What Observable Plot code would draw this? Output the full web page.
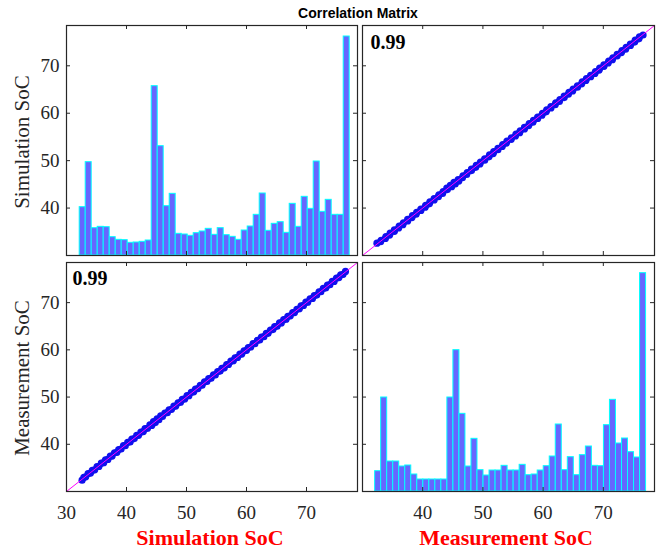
<!DOCTYPE html>
<html><head><meta charset="utf-8">
<script src="https://cdn.jsdelivr.net/npm/d3@7"></script>
<script src="https://cdn.jsdelivr.net/npm/@observablehq/plot@0.6"></script>
<style>
body{margin:0;background:#fff;}
#wrap{position:relative;width:659px;height:550px;background:#fff;overflow:hidden;}
#wrap svg{position:absolute;left:0;top:0;}
.title{position:absolute;left:0;width:716px;top:5px;line-height:15px;text-align:center;font:bold 14px "Liberation Sans",Arial,sans-serif;color:#000;}
.ylab{position:absolute;font:21px "Liberation Serif",serif;line-height:21px;color:#262626;white-space:nowrap;transform:translate(-50%,-50%) rotate(-90deg);}
.xlab{position:absolute;font:bold 22px "Liberation Serif",serif;line-height:22px;color:#ff0000;white-space:nowrap;transform:translateX(-50%);}
</style></head>
<body>
<div id="wrap"></div>
<script>
// ---- data ----
const titleText = "Correlation Matrix";
const varNames = ["Simulation SoC", "Measurement SoC"];
const corrText = ["0.99"];
const axisLimits = [30, 78.5];
const xTicksLeft = [30, 40, 50, 60, 70];
const xTicksRight = [40, 50, 60, 70];
const yTicks = [40, 50, 60, 70];
const binWidth = 1;
const simBinStart = 32.2;
const measBinStart = 32.1;
const simCounts = [145, 280, 82, 86, 85, 55, 47, 46, 38, 39, 41, 45, 508, 328, 148, 185, 65, 63, 59, 67, 72, 80, 62, 82, 61, 56, 47, 75, 87, 122, 186, 74, 95, 100, 68, 155, 86, 176, 140, 282, 131, 167, 122, 122, 657];
const measCounts = [61, 282, 90, 90, 75, 78, 51, 36, 36, 36, 36, 36, 282, 424, 233, 75, 158, 64, 48, 63, 63, 77, 63, 63, 80, 49, 51, 63, 76, 105, 201, 64, 103, 49, 109, 135, 77, 76, 199, 275, 144, 159, 118, 102, 655];
const simSoC = [
  32.6, 32.9, 33.2, 33.6, 34.0, 34.3, 34.7, 35.1, 35.4, 35.8,
  36.2, 36.5, 36.9, 37.3, 37.6, 38.0, 38.4, 38.7, 39.1, 39.5,
  39.8, 40.2, 40.6, 40.9, 41.3, 41.7, 42.0, 42.4, 42.8, 43.1,
  43.5, 43.9, 44.2, 44.5, 44.8, 45.1, 45.4, 45.7, 46.0, 46.4,
  46.8, 47.1, 47.5, 47.9, 48.2, 48.6, 49.0, 49.3, 49.7, 50.1,
  50.4, 50.8, 51.2, 51.5, 51.9, 52.3, 52.6, 53.0, 53.4, 53.7,
  54.1, 54.5, 54.8, 55.2, 55.6, 55.9, 56.3, 56.7, 57.0, 57.4,
  57.8, 58.1, 58.5, 58.9, 59.2, 59.6, 60.0, 60.3, 60.7, 61.1,
  61.4, 61.8, 62.2, 62.5, 62.9, 63.3, 63.6, 64.0, 64.4, 64.7,
  65.1, 65.5, 65.8, 66.2, 66.6, 66.9, 67.3, 67.7, 68.0, 68.4,
  68.8, 69.1, 69.5, 69.9, 70.2, 70.6, 71.0, 71.3, 71.7, 72.1,
  72.4, 72.8, 73.2, 73.5, 73.9, 74.3, 74.6, 75.0, 75.4, 75.7,
  76.1, 76.5];
const measSoC = [
  32.4, 33.0, 33.1, 33.8, 33.9, 34.5, 34.6, 35.3, 35.3, 36.0,
  36.1, 36.7, 36.8, 37.5, 37.5, 38.2, 38.3, 38.9, 39.0, 39.7,
  39.7, 40.4, 40.5, 41.1, 41.2, 41.9, 41.9, 42.6, 42.7, 43.3,
  43.4, 44.1, 44.0, 44.8, 44.6, 45.4, 45.2, 46.0, 45.9, 46.6,
  46.7, 47.3, 47.4, 48.1, 48.1, 48.8, 48.9, 49.5, 49.6, 50.3,
  50.3, 51.0, 51.1, 51.7, 51.8, 52.5, 52.5, 53.2, 53.3, 53.9,
  54.0, 54.7, 54.7, 55.4, 55.5, 56.1, 56.2, 56.9, 56.9, 57.6,
  57.7, 58.3, 58.4, 59.1, 59.1, 59.8, 59.9, 60.5, 60.6, 61.3,
  61.3, 62.0, 62.1, 62.7, 62.8, 63.5, 63.5, 64.2, 64.3, 64.9,
  65.0, 65.7, 65.7, 66.4, 66.5, 67.1, 67.2, 67.9, 67.9, 68.6,
  68.7, 69.3, 69.4, 70.1, 70.1, 70.8, 70.9, 71.5, 71.6, 72.3,
  72.3, 73.0, 73.1, 73.7, 73.8, 74.5, 74.5, 75.2, 75.3, 75.9,
  76.0, 76.6];

// ---- derived tables ----
const pairs = simSoC.map((s, i) => ({sim: s, meas: measSoC[i]}));
const toBins = (counts, start) => counts.map((c, i) => ({x1: start + i * binWidth, x2: start + (i + 1) * binWidth, count: c}));
const simBins = toBins(simCounts, simBinStart);
const measBins = toBins(measCounts, measBinStart);

// ---- layout ----
const W = 659, H = 550;
const frames = {
  tl: {left: 66, right: 357, top: 25, bottom: 255},
  tr: {left: 362, right: 654, top: 25, bottom: 255},
  bl: {left: 66, right: 357, top: 262, bottom: 491},
  br: {left: 362, right: 654, top: 262, bottom: 491}
};
const ink = "#262626";
const wrap = document.getElementById("wrap");

function base(f, extra) {
  return Object.assign({
    width: W, height: H,
    marginLeft: f.left, marginRight: W - f.right, marginTop: f.top, marginBottom: H - f.bottom,
    style: {background: "transparent", fontFamily: "'Liberation Serif', serif", fontSize: "19px", color: ink, overflow: "visible"}
  }, extra);
}

function content(f, yDomain, marks) {
  wrap.appendChild(Plot.plot(base(f, {
    x: {domain: axisLimits, axis: null},
    y: {domain: yDomain, axis: null},
    marks
  })));
}

function frameLayer(f, xTicks, showX, showY) {
  const fw = f.right - f.left, fh = f.bottom - f.top, tl = 4;
  const marks = [
    Plot.tickX(xTicks, {x: d => d, stroke: ink, insetTop: fh - tl}),
    Plot.tickX(xTicks, {x: d => d, stroke: ink, insetBottom: fh - tl}),
    Plot.tickY(yTicks, {y: d => d, stroke: ink, insetRight: fw - tl}),
    Plot.tickY(yTicks, {y: d => d, stroke: ink, insetLeft: fw - tl}),
    Plot.frame({stroke: ink, strokeWidth: 1.2})
  ];
  if (showX) marks.push(Plot.axisX({ticks: xTicks, anchor: "bottom", tickSize: 0, tickPadding: 14, fontSize: 19, label: null}));
  if (showY) marks.push(Plot.axisY({ticks: yTicks, anchor: "left", tickSize: 0, tickPadding: 7, fontSize: 19, label: null}));
  wrap.appendChild(Plot.plot(base(f, {
    x: {domain: axisLimits, axis: showX ? undefined : null},
    y: {domain: axisLimits, axis: showY ? undefined : null},
    marks
  })));
}

const barStyle = {fill: "#6666ff", stroke: "#00ffff", strokeWidth: 1};
const scatterMarks = (xk, yk, dx, dy) => [
  Plot.dot(pairs, {x: xk, y: yk, r: 3.6, fill: "#1010ee", stroke: null}),
  Plot.line(axisLimits, {x: d => d, y: d => d, stroke: "#ff00ff", strokeWidth: 1}),
  Plot.text(corrText, {frameAnchor: "top-left", text: d => d, dx, dy, textAnchor: "start", lineAnchor: "top", fontSize: 20, fontWeight: "bold", fill: "#000"})
];

// top-left: histogram of simulation
content(frames.tl, [0, 690], [Plot.rectY(simBins, {x1: "x1", x2: "x2", y: "count", ...barStyle})]);
frameLayer(frames.tl, xTicksLeft, false, true);
// top-right: simulation vs measurement
content(frames.tr, axisLimits, scatterMarks("meas", "sim", 8, 9));
frameLayer(frames.tr, xTicksRight, false, false);
// bottom-left: measurement vs simulation
content(frames.bl, axisLimits, scatterMarks("sim", "meas", 6, 8));
frameLayer(frames.bl, xTicksLeft, true, true);
// bottom-right: histogram of measurement
content(frames.br, [0, 687], [Plot.rectY(measBins, {x1: "x1", x2: "x2", y: "count", ...barStyle})]);
frameLayer(frames.br, xTicksRight, true, false);

// ---- text ----
function addDiv(cls, text, css) {
  const d = document.createElement("div");
  d.className = cls; d.textContent = text;
  Object.assign(d.style, css);
  wrap.appendChild(d);
}
addDiv("title", titleText, {});
addDiv("ylab", varNames[0], {left: "22px", top: "142px"});
addDiv("ylab", varNames[1], {left: "22px", top: "378px"});
addDiv("xlab", varNames[0], {left: "210px", top: "527px"});
addDiv("xlab", varNames[1], {left: "506px", top: "527px"});
</script>
</body></html>
